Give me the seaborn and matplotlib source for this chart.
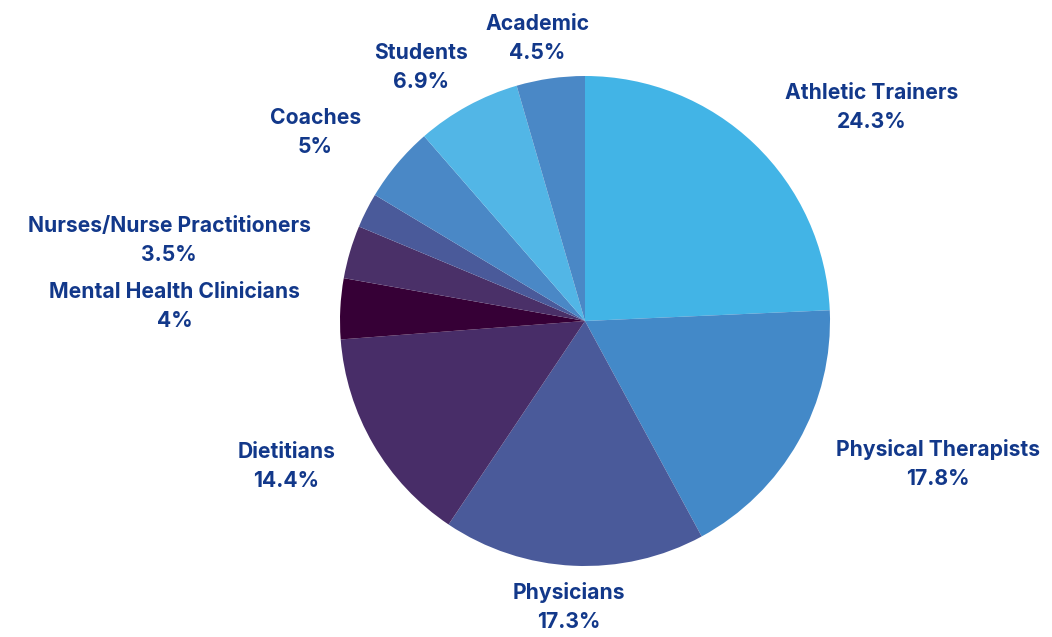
import matplotlib
matplotlib.use("Agg")
import matplotlib.pyplot as plt
import seaborn as sns
import numpy as np

# ---- data ----
categories = ["Athletic Trainers", "Physical Therapists", "Physicians", "Dietitians",
              "Mental Health Clinicians", "Nurses/Nurse Practitioners", "Other",
              "Coaches", "Students", "Academic"]
values = [24.3, 17.8, 17.3, 14.4, 4.0, 3.5, 2.3, 5.0, 6.9, 4.5]
show_label = [True, True, True, True, True, True, False, True, True, True]
colors = ["#42B4E6", "#4389C8", "#4A5A9A", "#482D68", "#360036",
          "#4A3068", "#4A5A9A", "#4A88C6", "#52B6E6", "#4A88C6"]
text_color = "#12388A"

sns.set_theme(style="white")
plt.rcParams['font.family'] = ['Inter', 'DejaVu Sans']

W, H, DPI = 1052, 637, 100
fig = plt.figure(figsize=(W / DPI, H / DPI), dpi=DPI)
cx, cy, R = 585, 321, 245
ax = fig.add_axes([(cx - R) / W, (H - cy - R) / H, 2 * R / W, 2 * R / H])
wedges, _ = ax.pie(values, colors=colors, startangle=90, counterclock=False,
                   radius=1, wedgeprops=dict(linewidth=0))
ax.set_xlim(-1, 1)
ax.set_ylim(-1, 1)
ax.set_aspect('equal')
ax.axis('off')

fig.canvas.draw()
renderer = fig.canvas.get_renderer()
trans = ax.transData
pad_x, pad_y, offset = 25, 1, 15
for w, cat, v, show in zip(wedges, categories, values, show_label):
    if not show:
        continue
    theta = np.deg2rad((w.theta1 + w.theta2) / 2)
    vx, vy = np.cos(theta), np.sin(theta)
    txt = ax.text(0, 0, f"{cat}\n{v:g}%", ha='center', va='center',
                  multialignment='center', fontsize=15.2, fontweight='bold',
                  color=text_color, linespacing=1.55)
    bb = txt.get_window_extent(renderer)
    tw, th = bb.width + 2 * pad_x, bb.height + 2 * pad_y
    ax_px = trans.transform((vx, vy))
    vs = 1 / max(abs(vx), abs(vy))
    dx = tw / 2 * vx * vs + offset * vx
    dy = th / 2 * vy * vs + offset * vy
    pos = trans.inverted().transform((ax_px[0] + dx, ax_px[1] + dy))
    txt.set_position(pos)

fig.savefig("out.png", dpi=DPI)
